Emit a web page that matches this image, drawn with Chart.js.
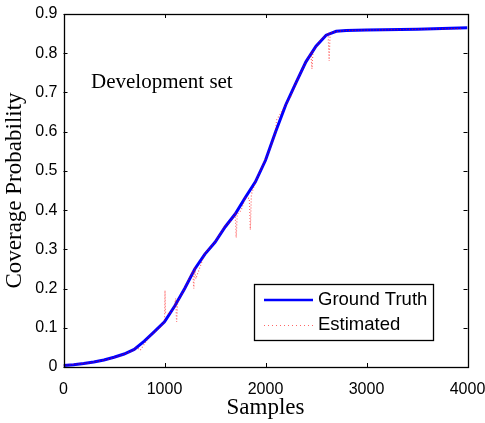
<!DOCTYPE html>
<html>
<head>
<meta charset="utf-8">
<script src="https://cdn.jsdelivr.net/npm/chart.js@4.4.0/dist/chart.umd.min.js"></script>
<style>
  html, body { margin: 0; padding: 0; background: #fff; }
</style>
</head>
<body>
<canvas id="chart" width="485" height="423"></canvas>
<script>
// Ground truth curve
const truthX = [0, 100, 200, 300, 400, 500, 600, 700, 800, 900, 1000, 1100, 1200, 1300, 1400,
  1500, 1600, 1700, 1800, 1900, 2000, 2100, 2200, 2300, 2400, 2500, 2600, 2700, 2800, 3000, 3500, 4000];
const truthY = [0.004, 0.006, 0.009, 0.013, 0.018, 0.025, 0.033, 0.045, 0.066, 0.09, 0.115, 0.155, 0.2, 0.25, 0.288,
  0.318, 0.357, 0.39, 0.432, 0.472, 0.527, 0.6, 0.668, 0.724, 0.778, 0.818, 0.846, 0.856, 0.858, 0.859, 0.861, 0.865];

// Estimated curve, with its spikes
const estX = [0, 150, 250, 350, 450, 550, 650, 700, 720, 760, 850, 950, 1000, 1005, 1010, 1050, 1100, 1110, 1120, 1130,
  1200, 1280, 1290, 1300, 1310, 1400, 1500, 1600, 1650, 1700, 1710, 1720, 1760, 1800, 1840, 1850, 1860, 1900,
  2000, 2050, 2100, 2110, 2200, 2250, 2300, 2400, 2450, 2460, 2470, 2550, 2600, 2620, 2630, 2640, 2700, 2800,
  3000, 3500, 3950];
const estY = [0.004, 0.008, 0.010, 0.015, 0.02, 0.028, 0.038, 0.044, 0.05, 0.043, 0.078, 0.1, 0.115, 0.195, 0.14, 0.135, 0.155, 0.175, 0.115, 0.165,
  0.2, 0.245, 0.2, 0.255, 0.225, 0.29, 0.318, 0.36, 0.37, 0.39, 0.33, 0.39, 0.4, 0.432, 0.43, 0.35, 0.44, 0.472,
  0.53, 0.56, 0.6, 0.63, 0.668, 0.69, 0.724, 0.778, 0.8, 0.76, 0.805, 0.835, 0.846, 0.85, 0.78, 0.852, 0.855, 0.858,
  0.859, 0.861, 0.863];

const xTicks = [0, 1000, 2000, 3000, 4000];
const seriesNames = ['Ground Truth', 'Estimated'];
const noteText = 'Development set';

const blue = '#0000ff';
const red = 'rgba(255, 0, 0, 0.6)';

// Box round the plot with MATLAB style inward ticks
const frameAndTicks = {
  id: 'frameAndTicks',
  afterDatasetsDraw(chart) {
    const { ctx, chartArea: a, scales: { x, y } } = chart;
    const len = 4;
    ctx.save();
    ctx.strokeStyle = '#000';
    ctx.lineWidth = 1;
    ctx.beginPath();
    x.ticks.forEach(t => {
      const px = Math.round(x.getPixelForValue(t.value)) + 0.5;
      ctx.moveTo(px, a.bottom); ctx.lineTo(px, a.bottom - len);
      ctx.moveTo(px, a.top); ctx.lineTo(px, a.top + len);
    });
    y.ticks.forEach(t => {
      const py = Math.round(y.getPixelForValue(t.value)) + 0.5;
      ctx.moveTo(a.left, py); ctx.lineTo(a.left + len, py);
      ctx.moveTo(a.right, py); ctx.lineTo(a.right - len, py);
    });
    ctx.stroke();
    ctx.lineWidth = 1.3;
    ctx.strokeRect(Math.round(a.left) + 0.5, Math.round(a.top) + 0.5,
      Math.round(a.right - a.left), Math.round(a.bottom - a.top));
    ctx.restore();
  }
};

// Legend box and the note inside the plot
const boxLegend = {
  id: 'boxLegend',
  afterDraw(chart) {
    const { ctx } = chart;
    ctx.save();
    ctx.font = '21px "Liberation Serif", serif';
    ctx.fillStyle = '#000';
    ctx.textBaseline = 'alphabetic';
    ctx.fillText(noteText, 91, 88);

    ctx.fillStyle = '#fff';
    ctx.fillRect(254, 284, 179, 56);
    ctx.strokeStyle = '#000';
    ctx.lineWidth = 1.3;
    ctx.strokeRect(254.5, 284.5, 179, 56);

    ctx.lineWidth = 2.5;
    ctx.strokeStyle = blue;
    ctx.beginPath(); ctx.moveTo(264, 300); ctx.lineTo(313, 300); ctx.stroke();

    ctx.lineWidth = 1;
    ctx.strokeStyle = red;
    ctx.setLineDash([1, 3]);
    ctx.beginPath(); ctx.moveTo(264, 325.5); ctx.lineTo(313, 325.5); ctx.stroke();
    ctx.setLineDash([]);

    ctx.fillStyle = '#000';
    ctx.font = '18.5px "Liberation Sans", Arial, sans-serif';
    ctx.textBaseline = 'middle';
    ctx.fillText(seriesNames[0], 318, 300);
    ctx.fillText(seriesNames[1], 318, 325);
    ctx.restore();
  }
};

const tickFont = { family: '"Liberation Sans", Arial, sans-serif', size: 16 };
const titleFont = { family: '"Liberation Serif", serif', size: 23 };

new Chart(document.getElementById('chart'), {
  type: 'line',
  data: {
    datasets: [
      {
        label: seriesNames[0],
        data: truthX.map((v, i) => ({ x: v, y: truthY[i] })),
        borderColor: blue,
        borderWidth: 3,
        pointRadius: 0,
        tension: 0,
        order: 2
      },
      {
        label: seriesNames[1],
        data: estX.map((v, i) => ({ x: v, y: estY[i] })),
        borderColor: red,
        borderWidth: 1.2,
        borderDash: [1, 2],
        pointRadius: 0,
        tension: 0,
        order: 1
      }
    ]
  },
  options: {
    responsive: false,
    animation: false,
    layout: { padding: { top: 14, right: 17.5, left: 0, bottom: 0 } },
    plugins: { legend: { display: false }, tooltip: { enabled: false } },
    scales: {
      x: {
        type: 'linear',
        min: 0,
        max: 4000,
        afterBuildTicks: s => { s.ticks = xTicks.map(v => ({ value: v })); },
        afterFit: s => { s.height = 56; s.paddingLeft = 0; s.paddingRight = 0; },
        grid: { display: false, drawTicks: false },
        border: { display: false },
        ticks: {
          font: tickFont,
          color: '#000',
          padding: 13,
          maxRotation: 0,
          callback: v => String(v)
        },
        title: { display: true, text: 'Samples', font: titleFont, color: '#000', padding: { top: 0, bottom: 1 } }
      },
      y: {
        min: 0,
        max: 0.9,
        afterFit: s => { s.width = 63.5; s.paddingTop = 0; s.paddingBottom = 0; },
        grid: { display: false, drawTicks: false },
        border: { display: false },
        ticks: {
          stepSize: 0.1,
          font: tickFont,
          color: '#000',
          padding: 6,
          callback: v => String(Number(v.toFixed(1)))
        },
        title: { display: true, text: 'Coverage Probability', font: titleFont, color: '#000', padding: { top: 1, bottom: 0 } }
      }
    }
  },
  plugins: [frameAndTicks, boxLegend]
});
</script>
</body>
</html>
